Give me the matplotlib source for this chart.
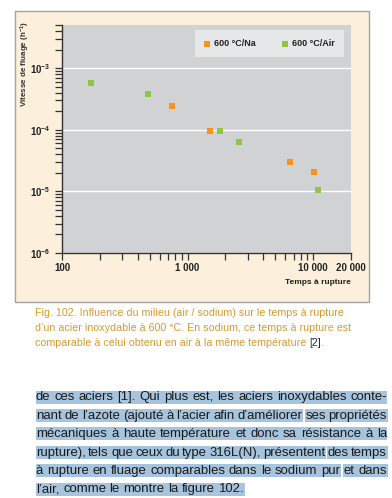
import matplotlib
matplotlib.use("Agg")
import matplotlib.pyplot as plt
from matplotlib.patches import Rectangle
from matplotlib.ticker import FixedLocator, LogLocator, NullFormatter, FixedFormatter

# ---------------- data ----------------
na_time = [750, 1500, 6500, 10200]
na_rate = [2.4e-4, 9.6e-5, 3.05e-5, 2.1e-5]
air_time = [170, 480, 1800, 2550, 11000]
air_rate = [5.7e-4, 3.75e-4, 9.6e-5, 6.4e-5, 1.04e-5]
x_ticks = [100, 1000, 10000, 20000]
x_ticklabels = ["100", "1 000", "10 000", "20 000"]
y_ticks = [1e-6, 1e-5, 1e-4, 1e-3]
y_ticklabels = [r"$10^{-6}$", r"$10^{-5}$", r"$10^{-4}$", r"$10^{-3}$"]
labels = ["600 °C/Na", "600 °C/Air"]
xlabel = "Temps à rupture"
ylabel = r"Vitesse de fluage (h$^{-1}$)"
caption_lines = [
    [("Fig. 102. Influence du milieu (air / sodium) sur le temps à rupture", "c")],
    [("d’un acier inoxydable à 600 °C. En sodium, ce temps à rupture est", "c")],
    [("comparable à celui obtenu en air à la même température ", "c"), ("[2]", "k"), (".", "c")],
]
para_lines = [
    ["de ces aciers [1]. Qui plus est, les aciers inoxydables conte-"],
    ["nant de l’azote (ajouté à l’acier afin d’améliorer", "ses propriétés"],
    ["mécaniques à haute température et donc sa résistance à la"],
    ["rupture), tels que ceux du type 316L(N), présentent", "des temps"],
    ["à rupture en fluage comparables dans le sodium pur", "et dans"],
    ["l’air, comme le montre la figure 102."],
]

W, H = 392, 498
plt.rcParams["font.family"] = ["Liberation Sans", "DejaVu Sans"]
plt.rcParams["mathtext.fontset"] = "custom"
plt.rcParams["mathtext.rm"] = "Liberation Sans:bold"
plt.rcParams["mathtext.it"] = "Liberation Sans:bold"
plt.rcParams["mathtext.bf"] = "Liberation Sans:bold"
plt.rcParams["mathtext.default"] = "regular"

fig = plt.figure(figsize=(W / 100, H / 100), dpi=100)
fig.patch.set_facecolor("white")

def fx(x):
    return x / W

def fy(y):
    return 1 - y / H

# beige panel
fig.patches.append(Rectangle((fx(15), fy(302)), (369 - 15) / W, (302 - 11) / H,
                             transform=fig.transFigure, facecolor="#fcefdc",
                             edgecolor="#a3a3a3", linewidth=1.0, zorder=-5))

ax = fig.add_axes([fx(62), fy(253), (351 - 62) / W, (253 - 25) / H])
ax.set_zorder(2)
ax.set_facecolor("#d1d2d4")
ax.set_xscale("log")
ax.set_yscale("log")
ax.set_xlim(100, 20000)
ax.set_ylim(1e-6, 5e-3)

orange = "#f7941d"
green = "#8dc63f"
ax.scatter(na_time, na_rate, marker="s", s=25, color=orange, linewidths=0, zorder=3, label=labels[0])
ax.scatter(air_time, air_rate, marker="s", s=25, color=green, linewidths=0, zorder=3, label=labels[1])

for v in y_ticks:
    ax.axhline(v, color="white", lw=1.0, zorder=1)

ax.xaxis.set_major_locator(FixedLocator(x_ticks))
ax.xaxis.set_major_formatter(FixedFormatter(x_ticklabels))
ax.xaxis.set_minor_locator(LogLocator(base=10, subs=range(2, 10), numticks=20))
ax.xaxis.set_minor_formatter(NullFormatter())
ax.yaxis.set_major_locator(FixedLocator(y_ticks))
ax.yaxis.set_major_formatter(FixedFormatter(y_ticklabels))
ax.yaxis.set_minor_locator(LogLocator(base=10, subs=range(2, 10), numticks=20))
ax.yaxis.set_minor_formatter(NullFormatter())

for s in ["top", "right"]:
    ax.spines[s].set_visible(False)
for s in ["left", "bottom"]:
    ax.spines[s].set_color("#333333")
    ax.spines[s].set_linewidth(1.0)

ax.tick_params(axis="both", which="both", direction="out", color="#333333", width=0.9)
ax.tick_params(axis="both", which="major", length=5.0, labelsize=7, pad=3)
ax.tick_params(axis="x", which="major", pad=2)
ax.tick_params(axis="both", which="minor", length=5.0)
for lab in ax.get_xticklabels() + ax.get_yticklabels():
    lab.set_fontweight("bold")
    lab.set_color("#222222")

fig.text(fx(25), fy(64), ylabel, rotation=90, ha="center", va="center",
         fontsize=5.8, fontweight="bold", color="#333333")
fig.text(fx(351), fy(283), xlabel, ha="right", va="center",
         fontsize=6, fontweight="bold", color="#222222")

leg = ax.legend(ncol=2, loc="upper right", bbox_to_anchor=(fx(344), fy(30)),
                bbox_transform=fig.transFigure, frameon=True, fancybox=False,
                facecolor="#e6e7e8", edgecolor="none", framealpha=1,
                prop={"size": 6.5, "weight": "bold"}, borderpad=1.0,
                handlelength=0.7, handletextpad=0.45, columnspacing=2.9,
                borderaxespad=0, scatterpoints=1, markerscale=0.85)
for t in leg.get_texts():
    t.set_color("#222222")

# ---------------- caption ----------------
renderer = fig.canvas.get_renderer()

def width_px(s, size, **kw):
    t = fig.text(0, 0, s, fontsize=size, **kw)
    w = t.get_window_extent(renderer).width
    t.remove()
    return w

cap_color = "#d99a2b"
cap_size = 10 * 304 / width_px(caption_lines[0][0][0], 10)
cap_baselines = [315.5, 331.0, 346.5]
for line, yb in zip(caption_lines, cap_baselines):
    x = 35
    for txt, c in line:
        col = cap_color if c == "c" else "#1f2a44"
        fig.text(fx(x), fy(yb), txt, fontsize=cap_size, color=col, va="baseline", ha="left")
        x += width_px(txt, cap_size)

# ---------------- paragraph ----------------
para_size = 10 * 348 / width_px(para_lines[0][0], 10)
left, right = 36, 387
hl = "#a6c4de"
box_bottoms = [403.5, 422.0, 440.3, 458.7, 477.0, 495.5]
space_w = width_px("a a", para_size) - 2 * width_px("a", para_size)
for li, (segs, bb) in enumerate(zip(para_lines, box_bottoms)):
    words = []
    for si, seg in enumerate(segs):
        for w in seg.split(" "):
            words.append((w, si))
    widths = [width_px(w, para_size) for w, _ in words]
    if li < len(para_lines) - 1:
        gap = (right - left - sum(widths)) / (len(words) - 1)
    else:
        gap = space_w
    x = left
    pos = []
    for (w, si), wd in zip(words, widths):
        pos.append((x, x + wd, si))
        x += wd + gap
    for si in range(len(segs)):
        xs = [p for p in pos if p[2] == si]
        x0 = xs[0][0] - 0.5
        x1 = xs[-1][1] + 0.5
        fig.patches.append(Rectangle((fx(x0), fy(bb)), (x1 - x0) / W, 13 / H,
                                     transform=fig.transFigure, facecolor=hl,
                                     edgecolor="none", zorder=-5))
    for (w, _), (x0, x1, si) in zip(words, pos):
        fig.text(fx(x0), fy(bb - 3.2), w, fontsize=para_size, color="#1a1a1a",
                 va="baseline", ha="left")

fig.savefig("out.png", dpi=100, facecolor="white")
